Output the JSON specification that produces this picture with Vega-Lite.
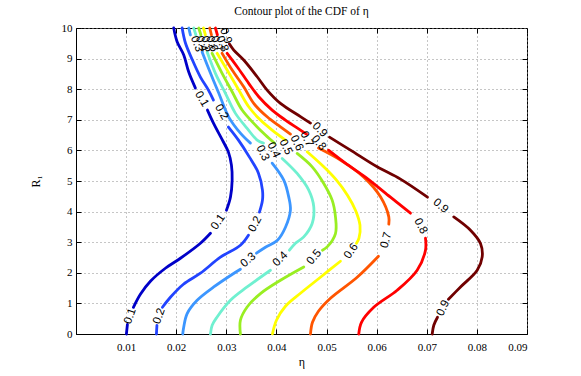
{
  "$schema": "https://vega.github.io/schema/vega-lite/v6.json",
  "width": 451,
  "height": 306,
  "autosize": "none",
  "padding": {"left": 76, "top": 28, "right": 54, "bottom": 42},
  "background": "white",
  "title": {"text": "Contour plot of the CDF of η", "font": "Liberation Serif", "fontSize": 11.5, "fontWeight": "normal", "color": "black", "offset": 5, "anchor": "middle"},
  "config": {
    "view": {"stroke": "black", "strokeWidth": 1},
    "axis": {
      "labelFont": "Liberation Serif", "labelFontSize": 11, "labelColor": "black",
      "titleFont": "Liberation Serif", "titleFontSize": 12, "titleFontWeight": "normal", "titleColor": "black",
      "domainColor": "black", "tickColor": "black", "tickSize": -5,
      "gridColor": "#8c8c8c", "gridDash": [1, 3], "gridOpacity": 1, "gridWidth": 1
    }
  },
  "datasets": {
    "lines": [
      {"lv":"0.1","s":"1a","i":0,"x":0.01006,"y":0},{"lv":"0.1","s":"1a","i":1,"x":0.01026,"y":0.317},
      {"lv":"0.1","s":"1b","i":0,"x":0.01146,"y":0.873},{"lv":"0.1","s":"1b","i":1,"x":0.01285,"y":1.299},{"lv":"0.1","s":"1b","i":2,"x":0.01485,"y":1.724},{"lv":"0.1","s":"1b","i":3,"x":0.01784,"y":2.149},{"lv":"0.1","s":"1b","i":4,"x":0.02084,"y":2.476},{"lv":"0.1","s":"1b","i":5,"x":0.02483,"y":2.967},{"lv":"0.1","s":"1b","i":6,"x":0.02683,"y":3.294},
      {"lv":"0.1","s":"1c","i":0,"x":0.03002,"y":4.046},{"lv":"0.1","s":"1c","i":1,"x":0.03082,"y":4.472},{"lv":"0.1","s":"1c","i":2,"x":0.03116,"y":5.028},{"lv":"0.1","s":"1c","i":3,"x":0.03102,"y":5.518},{"lv":"0.1","s":"1c","i":4,"x":0.03042,"y":5.944},{"lv":"0.1","s":"1c","i":5,"x":0.02922,"y":6.336},{"lv":"0.1","s":"1c","i":6,"x":0.02743,"y":6.892},{"lv":"0.1","s":"1c","i":7,"x":0.02623,"y":7.318},
      {"lv":"0.1","s":"1d","i":0,"x":0.02383,"y":8.037},{"lv":"0.1","s":"1d","i":1,"x":0.0225,"y":8.561},{"lv":"0.1","s":"1d","i":2,"x":0.0215,"y":9.117},{"lv":"0.1","s":"1d","i":3,"x":0.02018,"y":9.552},{"lv":"0.1","s":"1d","i":4,"x":0.0195,"y":10},

      {"lv":"0.2","s":"2a","i":0,"x":0.01605,"y":0},{"lv":"0.2","s":"2a","i":1,"x":0.01615,"y":0.285},
      {"lv":"0.2","s":"2b","i":0,"x":0.01725,"y":0.873},{"lv":"0.2","s":"2b","i":1,"x":0.01884,"y":1.201},{"lv":"0.2","s":"2b","i":2,"x":0.02144,"y":1.626},{"lv":"0.2","s":"2b","i":3,"x":0.02483,"y":1.986},{"lv":"0.2","s":"2b","i":4,"x":0.02882,"y":2.509},{"lv":"0.2","s":"2b","i":5,"x":0.03281,"y":2.902},{"lv":"0.2","s":"2b","i":6,"x":0.03441,"y":3.229},
      {"lv":"0.2","s":"2c","i":0,"x":0.03661,"y":3.981},{"lv":"0.2","s":"2c","i":1,"x":0.03721,"y":4.374},{"lv":"0.2","s":"2c","i":2,"x":0.03721,"y":4.701},{"lv":"0.2","s":"2c","i":3,"x":0.03641,"y":5.257},{"lv":"0.2","s":"2c","i":4,"x":0.03461,"y":5.78},{"lv":"0.2","s":"2c","i":5,"x":0.03242,"y":6.336},{"lv":"0.2","s":"2c","i":6,"x":0.03042,"y":6.762},
      {"lv":"0.2","s":"2d","i":0,"x":0.02743,"y":7.645},{"lv":"0.2","s":"2d","i":1,"x":0.02643,"y":7.972},{"lv":"0.2","s":"2d","i":2,"x":0.02483,"y":8.397},{"lv":"0.2","s":"2d","i":3,"x":0.02323,"y":8.953},{"lv":"0.2","s":"2d","i":4,"x":0.02184,"y":9.509},{"lv":"0.2","s":"2d","i":5,"x":0.02118,"y":10},

      {"lv":"0.3","s":"3a","i":0,"x":0.0213,"y":0},{"lv":"0.3","s":"3a","i":1,"x":0.0215,"y":0.229},{"lv":"0.3","s":"3a","i":2,"x":0.02218,"y":0.667},{"lv":"0.3","s":"3a","i":3,"x":0.02417,"y":1.102},{"lv":"0.3","s":"3a","i":4,"x":0.02749,"y":1.537},{"lv":"0.3","s":"3a","i":5,"x":0.03122,"y":1.953},{"lv":"0.3","s":"3a","i":6,"x":0.03281,"y":2.116},
      {"lv":"0.3","s":"3b","i":0,"x":0.03601,"y":2.64},{"lv":"0.3","s":"3b","i":1,"x":0.0378,"y":2.836},{"lv":"0.3","s":"3b","i":2,"x":0.0402,"y":3.065},{"lv":"0.3","s":"3b","i":3,"x":0.0418,"y":3.49},{"lv":"0.3","s":"3b","i":4,"x":0.04279,"y":4.046},{"lv":"0.3","s":"3b","i":5,"x":0.04246,"y":4.472},{"lv":"0.3","s":"3b","i":6,"x":0.04146,"y":5.028},{"lv":"0.3","s":"3b","i":7,"x":0.03914,"y":5.584},
      {"lv":"0.3","s":"3c","i":0,"x":0.03481,"y":6.238},{"lv":"0.3","s":"3c","i":1,"x":0.03281,"y":6.565},{"lv":"0.3","s":"3c","i":2,"x":0.03048,"y":7.089},{"lv":"0.3","s":"3c","i":3,"x":0.02848,"y":7.874},{"lv":"0.3","s":"3c","i":4,"x":0.02683,"y":8.528},{"lv":"0.3","s":"3c","i":5,"x":0.02517,"y":9.215},
      {"lv":"0.3","s":"3d","i":0,"x":0.02283,"y":9.771},{"lv":"0.3","s":"3d","i":1,"x":0.0225,"y":10},

      {"lv":"0.4","s":"4a","i":0,"x":0.02683,"y":0},{"lv":"0.4","s":"4a","i":1,"x":0.02717,"y":0.285},{"lv":"0.4","s":"4a","i":2,"x":0.02816,"y":0.556},{"lv":"0.4","s":"4a","i":3,"x":0.03082,"y":1.102},{"lv":"0.4","s":"4a","i":4,"x":0.03415,"y":1.537},{"lv":"0.4","s":"4a","i":5,"x":0.0388,"y":2.084},
      {"lv":"0.4","s":"4b","i":0,"x":0.04259,"y":2.738},{"lv":"0.4","s":"4b","i":1,"x":0.04379,"y":2.967},{"lv":"0.4","s":"4b","i":2,"x":0.04545,"y":3.173},{"lv":"0.4","s":"4b","i":3,"x":0.04713,"y":3.611},{"lv":"0.4","s":"4b","i":4,"x":0.04745,"y":4.154},{"lv":"0.4","s":"4b","i":5,"x":0.04645,"y":4.701},{"lv":"0.4","s":"4b","i":6,"x":0.04413,"y":5.247},{"lv":"0.4","s":"4b","i":7,"x":0.04114,"y":5.738},
      {"lv":"0.4","s":"4c","i":0,"x":0.03741,"y":6.238},{"lv":"0.4","s":"4c","i":1,"x":0.03615,"y":6.336},{"lv":"0.4","s":"4c","i":2,"x":0.03415,"y":6.719},{"lv":"0.4","s":"4c","i":3,"x":0.03182,"y":7.21},{"lv":"0.4","s":"4c","i":4,"x":0.02982,"y":7.864},{"lv":"0.4","s":"4c","i":5,"x":0.02782,"y":8.518},{"lv":"0.4","s":"4c","i":6,"x":0.02617,"y":9.215},
      {"lv":"0.4","s":"4d","i":0,"x":0.02393,"y":9.771},{"lv":"0.4","s":"4d","i":1,"x":0.02349,"y":10},

      {"lv":"0.5","s":"5a","i":0,"x":0.03281,"y":0},{"lv":"0.5","s":"5a","i":1,"x":0.03281,"y":0.448},{"lv":"0.5","s":"5a","i":2,"x":0.03415,"y":0.883},{"lv":"0.5","s":"5a","i":3,"x":0.03681,"y":1.322},{"lv":"0.5","s":"5a","i":4,"x":0.0408,"y":1.757},{"lv":"0.5","s":"5a","i":5,"x":0.04545,"y":2.192},
      {"lv":"0.5","s":"5b","i":0,"x":0.04918,"y":2.738},{"lv":"0.5","s":"5b","i":1,"x":0.05012,"y":2.846},{"lv":"0.5","s":"5b","i":2,"x":0.05178,"y":3.284},{"lv":"0.5","s":"5b","i":3,"x":0.05178,"y":3.827},{"lv":"0.5","s":"5b","i":4,"x":0.05112,"y":4.374},{"lv":"0.5","s":"5b","i":5,"x":0.04944,"y":4.92},{"lv":"0.5","s":"5b","i":6,"x":0.04713,"y":5.463},{"lv":"0.5","s":"5b","i":7,"x":0.04413,"y":5.901},
      {"lv":"0.5","s":"5c","i":0,"x":0.0396,"y":6.238},{"lv":"0.5","s":"5c","i":1,"x":0.0378,"y":6.5},{"lv":"0.5","s":"5c","i":2,"x":0.03547,"y":6.883},{"lv":"0.5","s":"5c","i":3,"x":0.03315,"y":7.318},{"lv":"0.5","s":"5c","i":4,"x":0.03116,"y":7.916},{"lv":"0.5","s":"5c","i":5,"x":0.02916,"y":8.518},{"lv":"0.5","s":"5c","i":6,"x":0.02717,"y":9.172},
      {"lv":"0.5","s":"5d","i":0,"x":0.02493,"y":9.771},{"lv":"0.5","s":"5d","i":1,"x":0.02449,"y":10},

      {"lv":"0.6","s":"6a","i":0,"x":0.0392,"y":0},{"lv":"0.6","s":"6a","i":1,"x":0.04,"y":0.448},{"lv":"0.6","s":"6a","i":2,"x":0.0418,"y":0.906},{"lv":"0.6","s":"6a","i":3,"x":0.04479,"y":1.331},{"lv":"0.6","s":"6a","i":4,"x":0.04878,"y":1.855},{"lv":"0.6","s":"6a","i":5,"x":0.05277,"y":2.378},
      {"lv":"0.6","s":"6b","i":0,"x":0.05597,"y":2.967},{"lv":"0.6","s":"6b","i":1,"x":0.05647,"y":3.131},{"lv":"0.6","s":"6b","i":2,"x":0.05667,"y":3.556},{"lv":"0.6","s":"6b","i":3,"x":0.05577,"y":4.046},{"lv":"0.6","s":"6b","i":4,"x":0.05417,"y":4.537},{"lv":"0.6","s":"6b","i":5,"x":0.05198,"y":5.028},{"lv":"0.6","s":"6b","i":6,"x":0.04944,"y":5.463},{"lv":"0.6","s":"6b","i":7,"x":0.04613,"y":5.954},
      {"lv":"0.6","s":"6c","i":0,"x":0.0418,"y":6.336},{"lv":"0.6","s":"6c","i":1,"x":0.03914,"y":6.663},{"lv":"0.6","s":"6c","i":2,"x":0.03681,"y":6.99},{"lv":"0.6","s":"6c","i":3,"x":0.03447,"y":7.426},{"lv":"0.6","s":"6c","i":4,"x":0.03248,"y":7.972},{"lv":"0.6","s":"6c","i":5,"x":0.03016,"y":8.626},{"lv":"0.6","s":"6c","i":6,"x":0.02816,"y":9.172},
      {"lv":"0.6","s":"6d","i":0,"x":0.02583,"y":9.771},{"lv":"0.6","s":"6d","i":1,"x":0.02543,"y":10},

      {"lv":"0.7","s":"7a","i":0,"x":0.04679,"y":0},{"lv":"0.7","s":"7a","i":1,"x":0.04719,"y":0.383},{"lv":"0.7","s":"7a","i":2,"x":0.04838,"y":0.743},{"lv":"0.7","s":"7a","i":3,"x":0.05078,"y":1.168},{"lv":"0.7","s":"7a","i":4,"x":0.05611,"y":1.855},{"lv":"0.7","s":"7a","i":5,"x":0.06036,"y":2.542},
      {"lv":"0.7","s":"7b","i":0,"x":0.06242,"y":3.588},{"lv":"0.7","s":"7b","i":1,"x":0.06242,"y":3.827},{"lv":"0.7","s":"7b","i":2,"x":0.06076,"y":4.482},{"lv":"0.7","s":"7b","i":3,"x":0.05743,"y":5.126},{"lv":"0.7","s":"7b","i":4,"x":0.05277,"y":5.682},{"lv":"0.7","s":"7b","i":5,"x":0.04838,"y":6.075},
      {"lv":"0.7","s":"7c","i":0,"x":0.04279,"y":6.533},{"lv":"0.7","s":"7c","i":1,"x":0.0408,"y":6.771},{"lv":"0.7","s":"7c","i":2,"x":0.03814,"y":7.098},{"lv":"0.7","s":"7c","i":3,"x":0.03547,"y":7.537},{"lv":"0.7","s":"7c","i":4,"x":0.03347,"y":8.08},{"lv":"0.7","s":"7c","i":5,"x":0.03116,"y":8.626},{"lv":"0.7","s":"7c","i":6,"x":0.02916,"y":9.172},
      {"lv":"0.7","s":"7d","i":0,"x":0.02703,"y":9.771},{"lv":"0.7","s":"7d","i":1,"x":0.02669,"y":10},

      {"lv":"0.8","s":"8a","i":0,"x":0.05643,"y":0},{"lv":"0.8","s":"8a","i":1,"x":0.05697,"y":0.383},{"lv":"0.8","s":"8a","i":2,"x":0.05942,"y":0.873},{"lv":"0.8","s":"8a","i":3,"x":0.06409,"y":1.43},{"lv":"0.8","s":"8a","i":4,"x":0.06808,"y":2.084},{"lv":"0.8","s":"8a","i":5,"x":0.06974,"y":2.738},{"lv":"0.8","s":"8a","i":6,"x":0.06974,"y":3.131},
      {"lv":"0.8","s":"8b","i":0,"x":0.06675,"y":3.948},{"lv":"0.8","s":"8b","i":1,"x":0.06275,"y":4.472},{"lv":"0.8","s":"8b","i":2,"x":0.05776,"y":5.126},{"lv":"0.8","s":"8b","i":3,"x":0.05377,"y":5.584},{"lv":"0.8","s":"8b","i":4,"x":0.05038,"y":6.009},
      {"lv":"0.8","s":"8c","i":0,"x":0.04599,"y":6.533},{"lv":"0.8","s":"8c","i":1,"x":0.04479,"y":6.663},{"lv":"0.8","s":"8c","i":2,"x":0.0418,"y":6.99},{"lv":"0.8","s":"8c","i":3,"x":0.03914,"y":7.318},{"lv":"0.8","s":"8c","i":4,"x":0.03647,"y":7.753},{"lv":"0.8","s":"8c","i":5,"x":0.03447,"y":8.191},{"lv":"0.8","s":"8c","i":6,"x":0.03216,"y":8.734},{"lv":"0.8","s":"8c","i":7,"x":0.03016,"y":9.172},
      {"lv":"0.8","s":"8d","i":0,"x":0.02822,"y":9.771},{"lv":"0.8","s":"8d","i":1,"x":0.02782,"y":10},

      {"lv":"0.9","s":"9a","i":0,"x":0.07108,"y":0},{"lv":"0.9","s":"9a","i":1,"x":0.0714,"y":0.285},{"lv":"0.9","s":"9a","i":2,"x":0.07214,"y":0.546},
      {"lv":"0.9","s":"9b","i":0,"x":0.07433,"y":1.135},{"lv":"0.9","s":"9b","i":1,"x":0.07673,"y":1.537},{"lv":"0.9","s":"9b","i":2,"x":0.08006,"y":2.084},{"lv":"0.9","s":"9b","i":3,"x":0.08106,"y":2.519},{"lv":"0.9","s":"9b","i":4,"x":0.08072,"y":2.957},{"lv":"0.9","s":"9b","i":5,"x":0.07872,"y":3.392},{"lv":"0.9","s":"9b","i":6,"x":0.07539,"y":3.827},
      {"lv":"0.9","s":"9c","i":0,"x":0.07014,"y":4.472},{"lv":"0.9","s":"9c","i":1,"x":0.06475,"y":5.061},{"lv":"0.9","s":"9c","i":2,"x":0.0601,"y":5.463},{"lv":"0.9","s":"9c","i":3,"x":0.05477,"y":6.009},{"lv":"0.9","s":"9c","i":4,"x":0.05058,"y":6.434},
      {"lv":"0.9","s":"9d","i":0,"x":0.04679,"y":6.892},{"lv":"0.9","s":"9d","i":1,"x":0.04479,"y":7.105},{"lv":"0.9","s":"9d","i":2,"x":0.0408,"y":7.537},{"lv":"0.9","s":"9d","i":3,"x":0.03814,"y":7.972},{"lv":"0.9","s":"9d","i":4,"x":0.03615,"y":8.407},{"lv":"0.9","s":"9d","i":5,"x":0.03347,"y":8.953},{"lv":"0.9","s":"9d","i":6,"x":0.03148,"y":9.28},{"lv":"0.9","s":"9d","i":7,"x":0.03062,"y":9.477}
    ],
    "labels": [
      {"t":"0.1","x":0.01086,"y":0.579,"a":-70},{"t":"0.1","x":0.02842,"y":3.654,"a":-55},{"t":"0.1","x":0.02503,"y":7.678,"a":60},
      {"t":"0.2","x":0.01665,"y":0.579,"a":-70},{"t":"0.2","x":0.03581,"y":3.588,"a":-62},{"t":"0.2","x":0.02902,"y":7.252,"a":60},
      {"t":"0.3","x":0.03441,"y":2.411,"a":-40},{"t":"0.3","x":0.03721,"y":5.911,"a":65},{"t":"0.3","x":0.02403,"y":9.477,"a":70},
      {"t":"0.4","x":0.0408,"y":2.444,"a":-45},{"t":"0.4","x":0.0394,"y":6.009,"a":65},{"t":"0.4","x":0.02503,"y":9.477,"a":70},
      {"t":"0.5","x":0.04758,"y":2.509,"a":-50},{"t":"0.5","x":0.0418,"y":6.107,"a":65},{"t":"0.5","x":0.02603,"y":9.477,"a":70},
      {"t":"0.6","x":0.05497,"y":2.705,"a":-55},{"t":"0.6","x":0.04399,"y":6.238,"a":65},{"t":"0.6","x":0.02703,"y":9.477,"a":70},
      {"t":"0.7","x":0.06196,"y":3.065,"a":-75},{"t":"0.7","x":0.04599,"y":6.369,"a":65},{"t":"0.7","x":0.02802,"y":9.477,"a":70},
      {"t":"0.8","x":0.06874,"y":3.523,"a":62},{"t":"0.8","x":0.04838,"y":6.238,"a":50},{"t":"0.8","x":0.02912,"y":9.477,"a":70},
      {"t":"0.9","x":0.07333,"y":0.841,"a":-65},{"t":"0.9","x":0.07273,"y":4.177,"a":40},{"t":"0.9","x":0.04858,"y":6.663,"a":45},{"t":"0.9","x":0.02982,"y":9.738,"a":70}
    ]
  },
  "resolve": {"axis": {"x": "independent", "y": "independent"}},
  "layer": [
    {
      "data": {"name": "lines"},
      "mark": {"type": "line", "strokeWidth": 2.8, "interpolate": "catmull-rom", "strokeCap": "round", "strokeJoin": "round"},
      "encoding": {
        "x": {"field": "x", "type": "quantitative", "scale": {"domain": [0, 0.09], "nice": false, "zero": false},
              "axis": {"orient": "bottom", "values": [0.01,0.02,0.03,0.04,0.05,0.06,0.07,0.08,0.09], "format": ".2f", "grid": true, "labelPadding": 12, "title": "η", "titlePadding": 4}},
        "y": {"field": "y", "type": "quantitative", "scale": {"domain": [0, 10], "nice": false, "zero": false},
              "axis": {"orient": "left", "values": [0,1,2,3,4,5,6,7,8,9,10], "grid": true, "labelPadding": 9, "title": "R₁", "titlePadding": 19}},
        "color": {"field": "lv", "type": "nominal", "legend": null,
                  "scale": {"domain": ["0.1","0.2","0.3","0.4","0.5","0.6","0.7","0.8","0.9"],
                            "range": ["#0000c8","#2244ff","#3c96ff","#70f0d0","#99ee22","#ffff00","#ff5500","#ff0000","#700000"]}},
        "detail": {"field": "s", "type": "nominal"},
        "order": {"field": "i", "type": "quantitative"}
      }
    },
    {
      "data": {"name": "labels"},
      "mark": {"type": "text", "font": "Liberation Sans", "fontSize": 11.5, "color": "black", "align": "center", "baseline": "middle"},
      "encoding": {
        "x": {"field": "x", "type": "quantitative", "scale": {"domain": [0, 0.09], "nice": false, "zero": false},
              "axis": {"orient": "top", "values": [0.01,0.02,0.03,0.04,0.05,0.06,0.07,0.08,0.09], "labels": false, "grid": false, "domain": false, "title": null}},
        "y": {"field": "y", "type": "quantitative", "scale": {"domain": [0, 10], "nice": false, "zero": false},
              "axis": {"orient": "right", "values": [1,2,3,4,5,6,7,8,9], "labels": false, "grid": false, "domain": false, "title": null}},
        "text": {"field": "t", "type": "nominal"},
        "angle": {"field": "a", "type": "quantitative", "scale": null}
      }
    }
  ]
}
